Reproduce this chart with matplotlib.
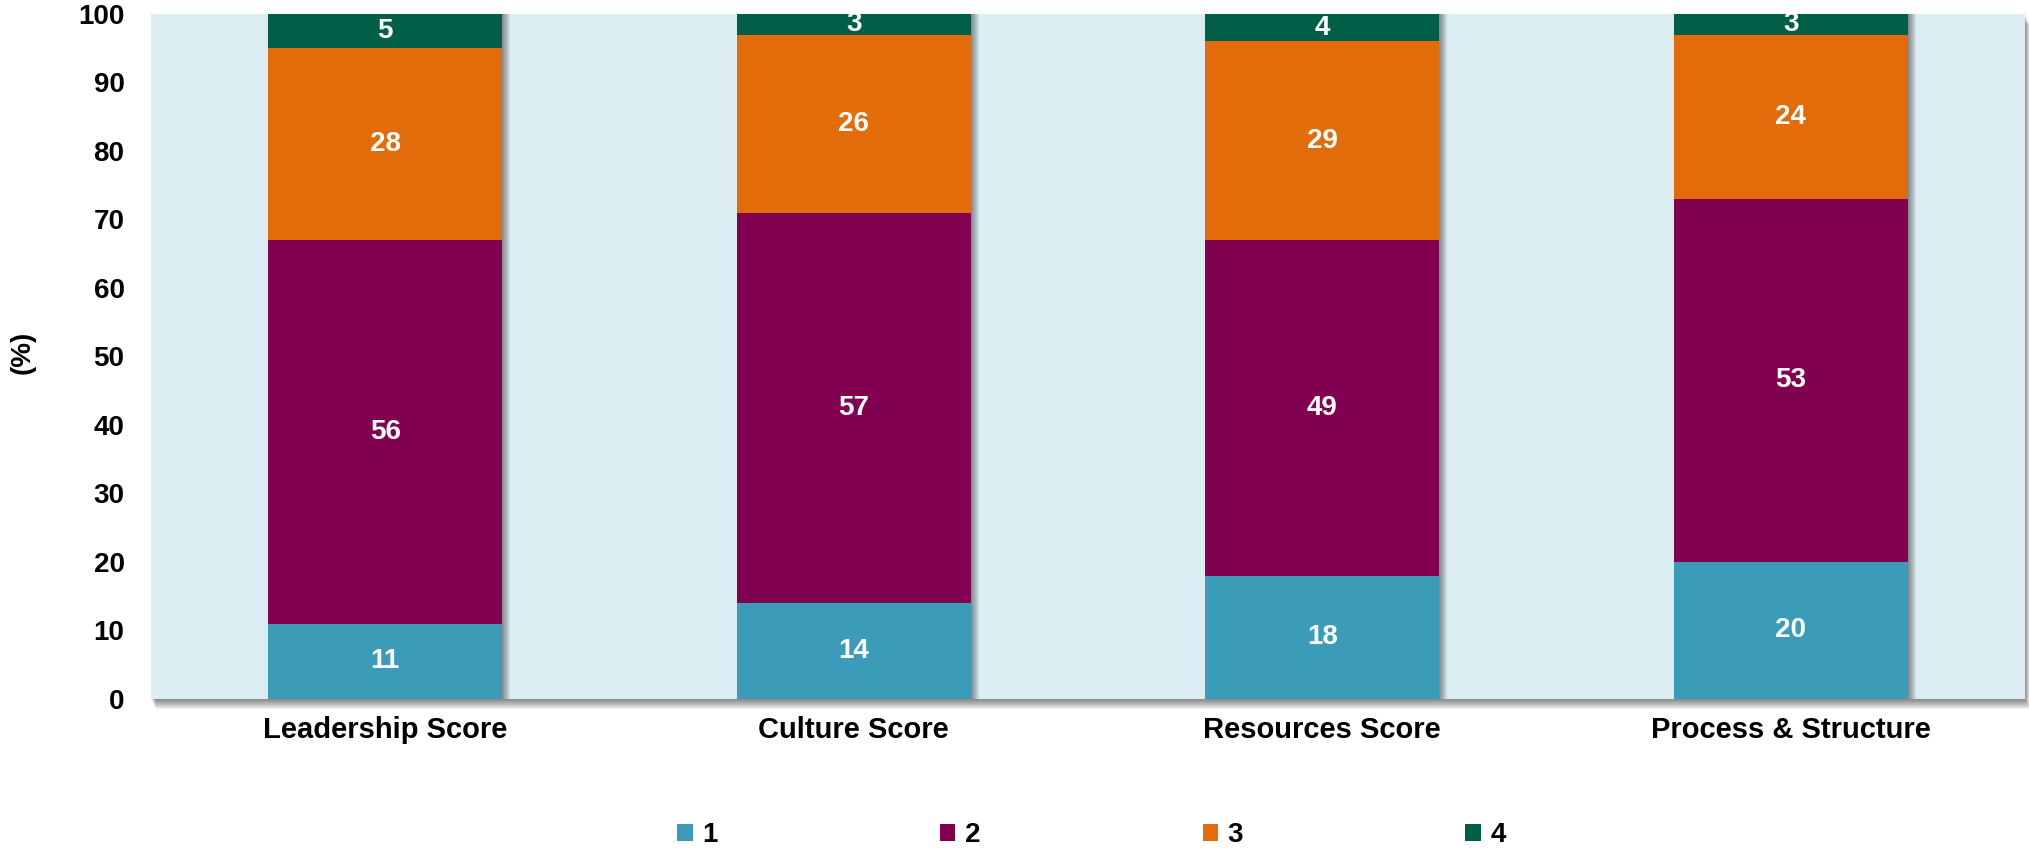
import numpy as np
import matplotlib
matplotlib.use("Agg")
import matplotlib.pyplot as plt
from matplotlib.patches import Rectangle

plt.rcParams['font.family'] = ['Liberation Sans', 'DejaVu Sans']
plt.rcParams['font.weight'] = 'bold'

categories = ["Leadership Score", "Culture Score", "Resources Score", "Process & Structure"]
series_names = ["1", "2", "3", "4"]
score_1 = [11, 14, 18, 20]
score_2 = [56, 57, 49, 53]
score_3 = [28, 26, 29, 24]
score_4 = [5, 3, 4, 3]
yticks = list(range(0, 101, 10))

colors = ["#3A9CB8", "#820050", "#E36C0A", "#005F46"]
bg_color = "#DBEDF3"

W, H = 2029, 852
fig = plt.figure(figsize=(W / 100, H / 100), dpi=100)
ax_pos = [0.0744, 0.1796, 0.9236, 0.804]
ax = fig.add_axes(ax_pos)

# soft shadow behind the plot area (right and below)
for i in range(10):
    fig.patches.append(Rectangle((ax_pos[0] + (i + 1) * 0.5 / W, ax_pos[1] - (i + 1) / H),
                                 ax_pos[2], ax_pos[3],
                                 transform=fig.transFigure, facecolor="black",
                                 alpha=0.055, edgecolor="none", zorder=0))
ax.set_facecolor(bg_color)
ax.set_zorder(1)

x = np.arange(len(categories))
width = 0.5
series = [score_1, score_2, score_3, score_4]
totals = np.sum(series, axis=0)

# bar drop shadows, one pixel per layer
px = 4 / (ax_pos[2] * W)
for i in range(8):
    ax.bar(x + (i + 1) * px, totals, width, color="black", alpha=0.06,
           linewidth=0, zorder=1)

bottom = np.zeros(len(categories))
handles = []
for vals, name, col in zip(series, series_names, colors):
    bars = ax.bar(x, vals, width, bottom=bottom, color=col, label=name,
                  linewidth=0, zorder=2)
    handles.append(bars)
    for xi, b, v in zip(x, bottom, vals):
        ax.text(xi, b + v / 2, str(v), ha="center", va="center",
                color="white", fontsize=20, fontweight="bold", zorder=3)
    bottom = bottom + np.array(vals)

ax.set_xlim(-0.5, 3.5)
ax.set_ylim(0, 100)
ax.set_yticks(yticks)
ax.set_yticklabels([str(t) for t in yticks], fontsize=20, fontweight="bold")
ax.set_xticks(x)
ax.set_xticklabels(categories, fontsize=21, fontweight="bold")
ax.tick_params(axis="y", length=0, pad=19)
ax.tick_params(axis="x", length=0, pad=12)
for s in ax.spines.values():
    s.set_visible(False)

fig.text(0.011, 0.587, "(%)", rotation=90, ha="center", va="center",
         fontsize=20, fontweight="bold")

fig.legend(handles=handles, labels=series_names, loc="center",
           bbox_to_anchor=(0.538, 0.02), ncol=4, frameon=False,
           handlelength=0.55, handleheight=0.55,
           handletextpad=0.35, columnspacing=8.0,
           prop={"weight": "bold", "size": 20})

fig.savefig("out.png", dpi=100)
